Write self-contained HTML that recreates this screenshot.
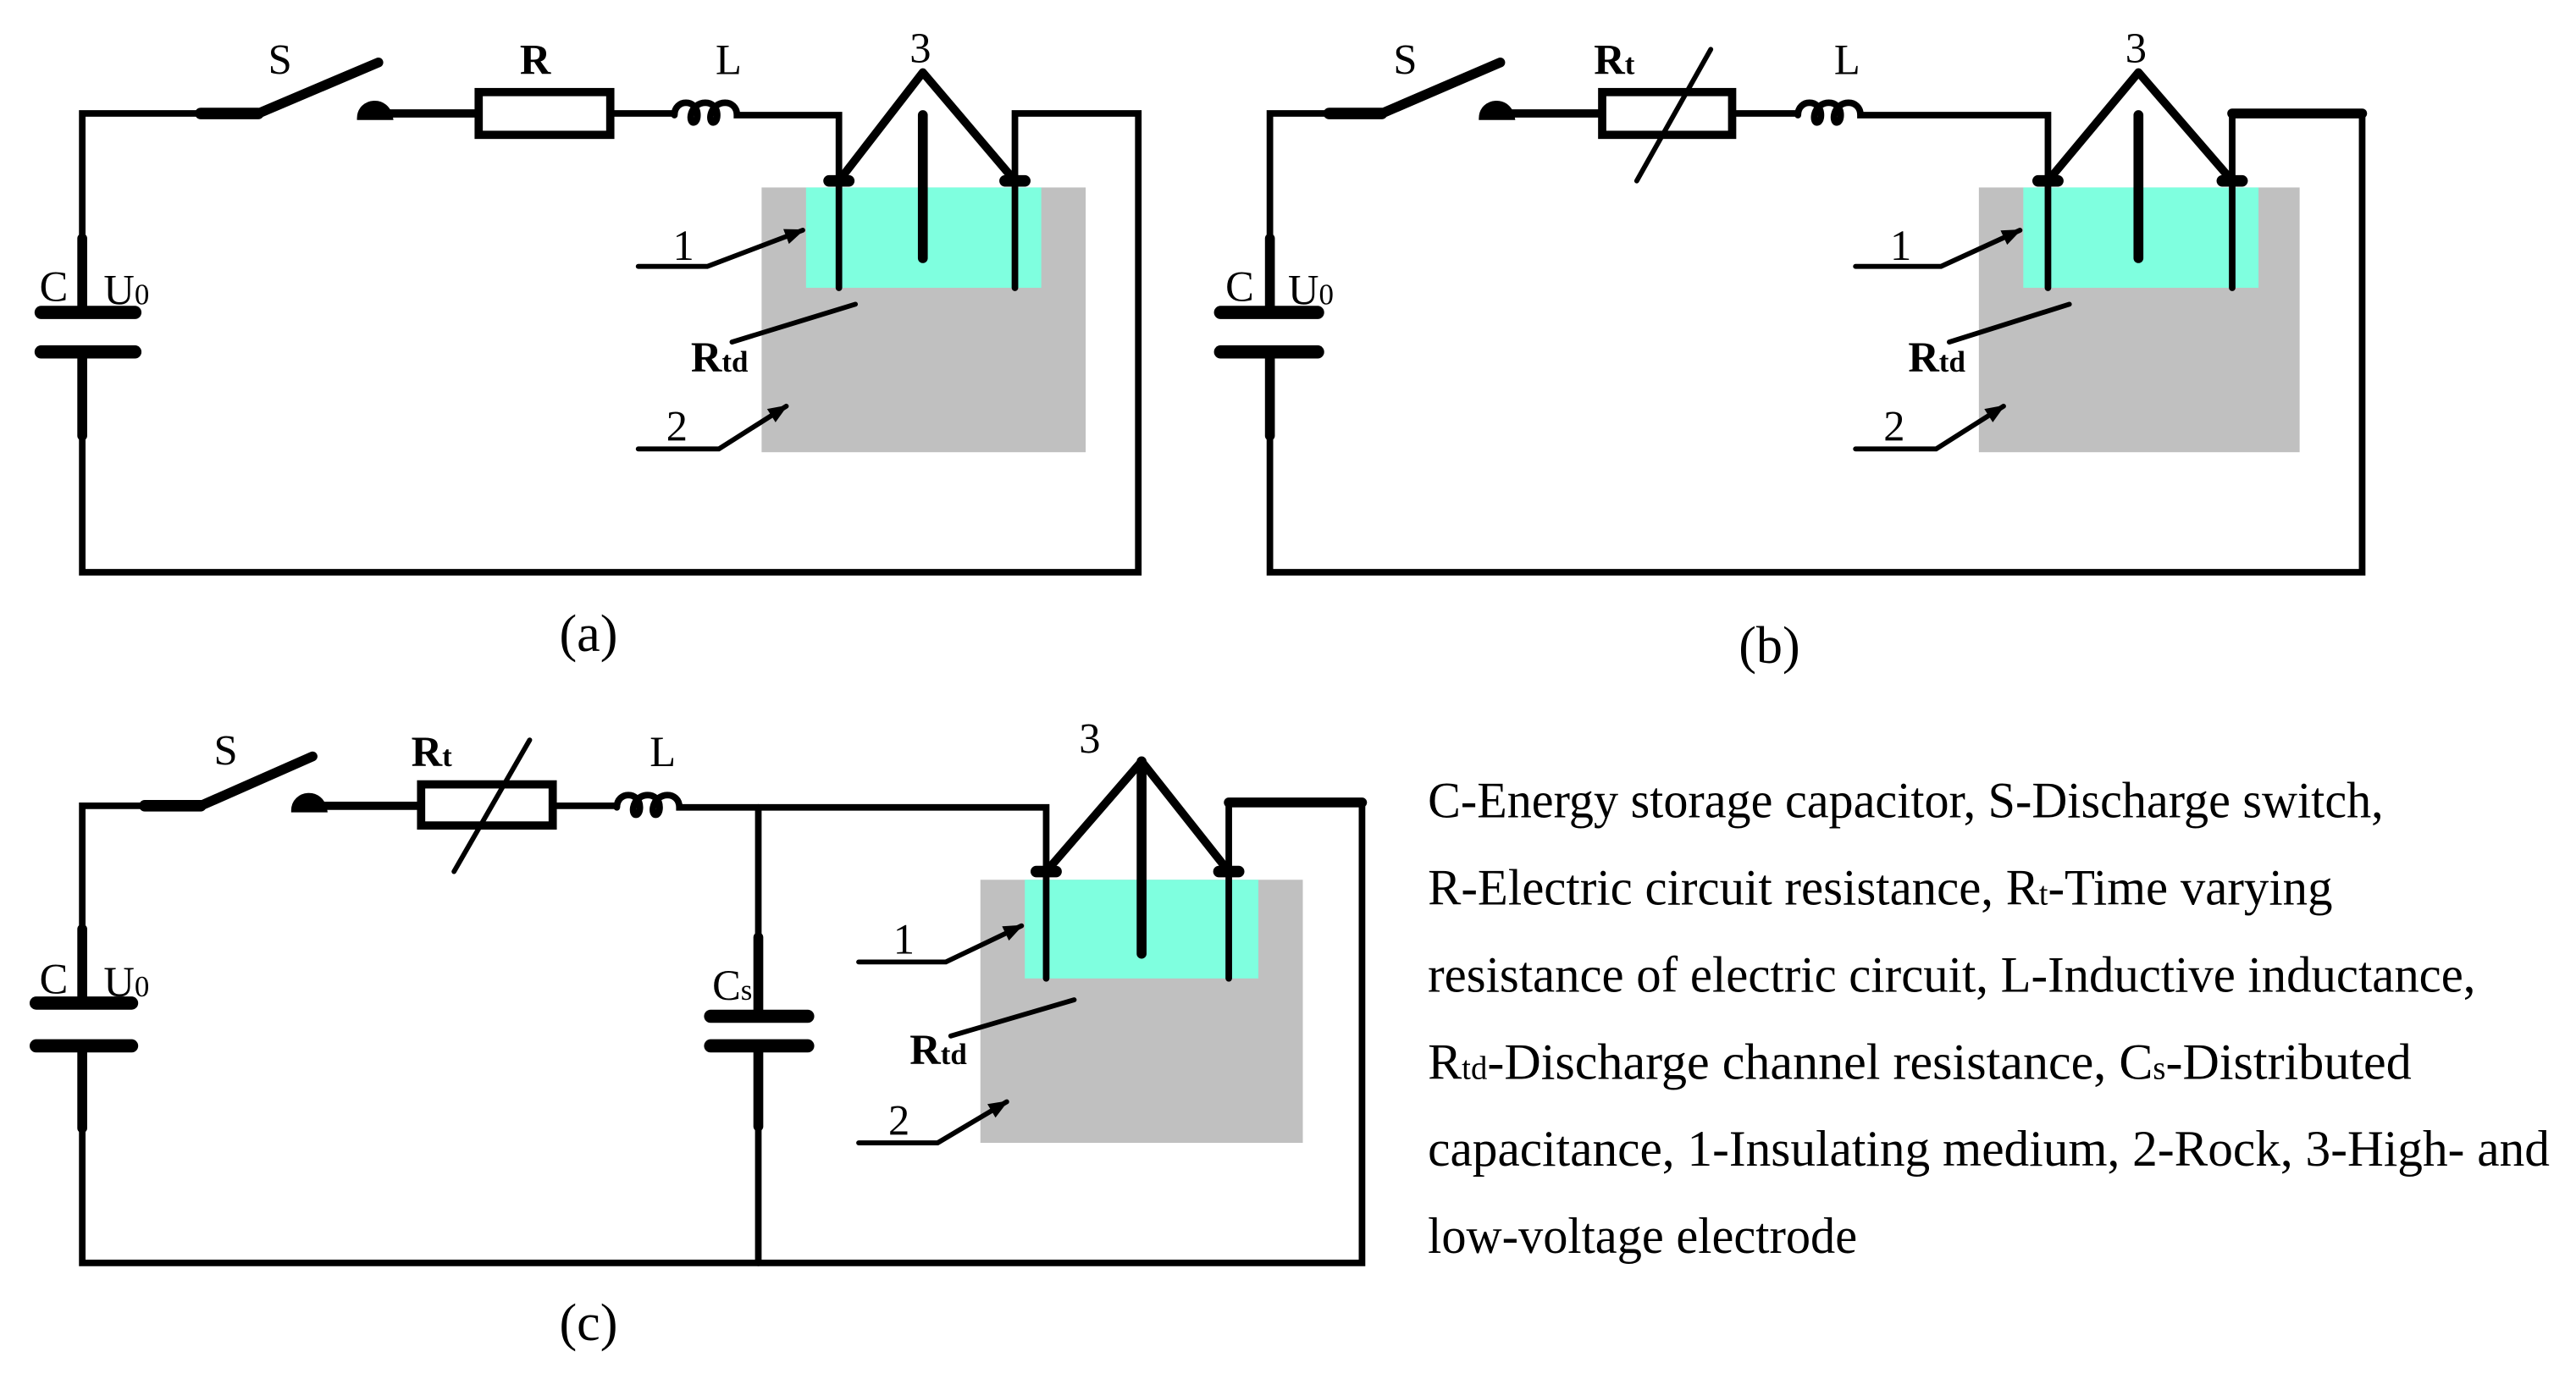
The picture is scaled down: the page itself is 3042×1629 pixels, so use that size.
<!DOCTYPE html>
<html><head><meta charset="utf-8"><style>html,body{margin:0;padding:0;background:#fff}svg{display:block}</style></head><body>
<svg width="3042" height="1629" viewBox="0 0 1566 838.6" xmlns="http://www.w3.org/2000/svg" font-family="Liberation Serif, serif">
<defs>
<marker id="ar" viewBox="0 0 10 10" refX="9" refY="5" markerWidth="5" markerHeight="4" orient="auto"><path d="M0,1 L10,5 L0,9 z" fill="#000"/></marker>
</defs>
<g stroke="#000" fill="none" stroke-width="4" stroke-linecap="round">
<!-- ===== Panel (a) ===== -->
<rect x="463" y="114" width="197" height="161" fill="#c0c0c0" stroke="none"/>
<rect x="490" y="114" width="143" height="61" fill="#7fffdf" stroke="none"/>
<path d="M50 145 V69 H122"/>
<path d="M122 69 H157" stroke-width="7"/>
<path d="M157 69 L230 38" stroke-width="6"/>
<path d="M218 72 C218 60 236 58 238 72 Z" fill="#000" stroke-width="2"/>
<path d="M236 69 H290" stroke-width="5"/>
<rect x="291" y="56" width="80" height="26" stroke-width="5"/>
<path d="M372 69 H410"/>
<path d="M410 70 c0-10 14-10 14 0 c0 6 -5 6 -4 0 c2-10 16-10 16 0 c0 6-5 6-4 0 c2-10 16-10 16 0 V70 H510 V175"/>
<path d="M50 145 V188" stroke-width="6"/>
<path d="M25 190 H82" stroke-width="8"/>
<path d="M25 214 H82" stroke-width="8"/>
<path d="M50 215 V265" stroke-width="6"/>
<path d="M50 265 V348 H692 V69 H617 V175"/>
<path d="M561 70 V157" stroke-width="6"/>
<path d="M561 44 L510 110 M561 44 L617 110" stroke-width="5"/>
<path d="M504 110 H516 M611 110 H623" stroke-width="7"/>
<path d="M388 162 H430 L488 140" marker-end="url(#ar)" stroke-width="3"/>
<path d="M445 208 L520 185" stroke-width="3"/>
<path d="M388 273 H437 L478 247" marker-end="url(#ar)" stroke-width="3"/>
<!-- ===== Panel (b) ===== -->
<rect x="1203" y="114" width="195" height="161" fill="#c0c0c0" stroke="none"/>
<rect x="1230" y="114" width="143" height="61" fill="#7fffdf" stroke="none"/>
<path d="M772 145 V69 H808"/>
<path d="M808 69 H840" stroke-width="7"/>
<path d="M840 69 L912 38" stroke-width="6"/>
<path d="M900 72 C900 60 918 58 920 72 Z" fill="#000" stroke-width="2"/>
<path d="M918 69 H973" stroke-width="5"/>
<rect x="974" y="56" width="79" height="26" stroke-width="5"/>
<path d="M995 110 L1040 30" stroke-width="3"/>
<path d="M1054 69 H1093"/>
<path d="M1093 70 c0-10 14-10 14 0 c0 6 -5 6 -4 0 c2-10 16-10 16 0 c0 6-5 6-4 0 c2-10 16-10 16 0 V70 H1245 V175"/>
<path d="M772 145 V188" stroke-width="6"/>
<path d="M742 190 H801" stroke-width="8"/>
<path d="M742 214 H801" stroke-width="8"/>
<path d="M772 215 V265" stroke-width="6"/>
<path d="M772 265 V348 H1436 V69 H1357 V175"/>
<path d="M1357 69 H1436" stroke-width="6"/>
<path d="M1300 70 V157" stroke-width="6"/>
<path d="M1300 44 L1245 110 M1300 44 L1357 110" stroke-width="5"/>
<path d="M1239 110 H1251 M1351 110 H1363" stroke-width="7"/>
<path d="M1128 162 H1180 L1228 140" marker-end="url(#ar)" stroke-width="3"/>
<path d="M1185 208 L1258 185" stroke-width="3"/>
<path d="M1128 273 H1177 L1218 247" marker-end="url(#ar)" stroke-width="3"/>
<!-- ===== Panel (c) ===== -->
<rect x="596" y="535" width="196" height="160" fill="#c0c0c0" stroke="none"/>
<rect x="623" y="535" width="142" height="60" fill="#7fffdf" stroke="none"/>
<path d="M50 565 V490 H88"/>
<path d="M88 490 H122" stroke-width="7"/>
<path d="M122 490 L190 460" stroke-width="6"/>
<path d="M178 493 C178 481 196 479 198 493 Z" fill="#000" stroke-width="2"/>
<path d="M196 490 H255" stroke-width="5"/>
<rect x="256" y="477" width="80" height="25" stroke-width="5"/>
<path d="M276 530 L322 450" stroke-width="3"/>
<path d="M337 490 H375"/>
<path d="M375 491 c0-10 14-10 14 0 c0 6 -5 6 -4 0 c2-10 16-10 16 0 c0 6-5 6-4 0 c2-10 16-10 16 0 V491 H636 V595"/>
<path d="M50 565 V608" stroke-width="6"/>
<path d="M22 610 H80" stroke-width="8"/>
<path d="M22 636 H80" stroke-width="8"/>
<path d="M50 636 V686" stroke-width="6"/>
<path d="M50 686 V768 H828 V488 H747 V595"/>
<path d="M747 488 H828" stroke-width="6"/>
<path d="M461 491 V570"/>
<path d="M461 570 V617" stroke-width="6"/>
<path d="M432 618 H491" stroke-width="8"/>
<path d="M432 636 H491" stroke-width="8"/>
<path d="M461 637 V685" stroke-width="6"/>
<path d="M461 685 V768"/>
<path d="M694 463 V580" stroke-width="6"/>
<path d="M694 463 L636 530 M694 463 L747 530" stroke-width="5"/>
<path d="M630 530 H642 M741 530 H753" stroke-width="7"/>
<path d="M522 585 H575 L621 563" marker-end="url(#ar)" stroke-width="3"/>
<path d="M578 630 L653 608" stroke-width="3"/>
<path d="M522 695 H570 L612 670" marker-end="url(#ar)" stroke-width="3"/>
</g>
<g fill="#000" font-size="26">
<text x="163" y="45">S</text>
<text x="316" y="45" font-weight="bold">R</text>
<text x="435" y="45">L</text>
<text x="553" y="38">3</text>
<text x="24" y="183">C</text>
<text x="63" y="185">U<tspan font-size="18">0</tspan></text>
<text x="409" y="158">1</text>
<text x="420" y="226" font-weight="bold">R<tspan font-size="18">td</tspan></text>
<text x="405" y="268">2</text>
<text x="340" y="396" font-size="32">(a)</text>

<text x="847" y="45">S</text>
<text x="969" y="45" font-weight="bold">R<tspan font-size="18">t</tspan></text>
<text x="1115" y="45">L</text>
<text x="1292" y="38">3</text>
<text x="745" y="183">C</text>
<text x="783" y="185">U<tspan font-size="18">0</tspan></text>
<text x="1149" y="158">1</text>
<text x="1160" y="226" font-weight="bold">R<tspan font-size="18">td</tspan></text>
<text x="1145" y="268">2</text>
<text x="1057" y="403" font-size="32">(b)</text>

<text x="130" y="465">S</text>
<text x="250" y="466" font-weight="bold">R<tspan font-size="18">t</tspan></text>
<text x="395" y="466">L</text>
<text x="656" y="458">3</text>
<text x="24" y="604">C</text>
<text x="63" y="606">U<tspan font-size="18">0</tspan></text>
<text x="433" y="608">C<tspan font-size="18">s</tspan></text>
<text x="543" y="580">1</text>
<text x="553" y="647" font-weight="bold">R<tspan font-size="18">td</tspan></text>
<text x="540" y="690">2</text>
<text x="340" y="815" font-size="32">(c)</text>
</g>
<g fill="#000" font-size="31">
<text x="868" y="497" textLength="581" lengthAdjust="spacingAndGlyphs">C-Energy storage capacitor, S-Discharge switch,</text>
<text x="868" y="550" textLength="550" lengthAdjust="spacingAndGlyphs">R-Electric circuit resistance, R<tspan font-size="20">t</tspan>-Time varying</text>
<text x="868" y="603" textLength="637" lengthAdjust="spacingAndGlyphs">resistance of electric circuit, L-Inductive inductance,</text>
<text x="868" y="656" textLength="598" lengthAdjust="spacingAndGlyphs">R<tspan font-size="20">td</tspan>-Discharge channel resistance,  C<tspan font-size="20">s</tspan>-Distributed</text>
<text x="868" y="709" textLength="682" lengthAdjust="spacingAndGlyphs">capacitance,  1-Insulating medium, 2-Rock, 3-High- and</text>
<text x="868" y="762" textLength="261" lengthAdjust="spacingAndGlyphs">low-voltage electrode</text>
</g>
</svg>
</body></html>
